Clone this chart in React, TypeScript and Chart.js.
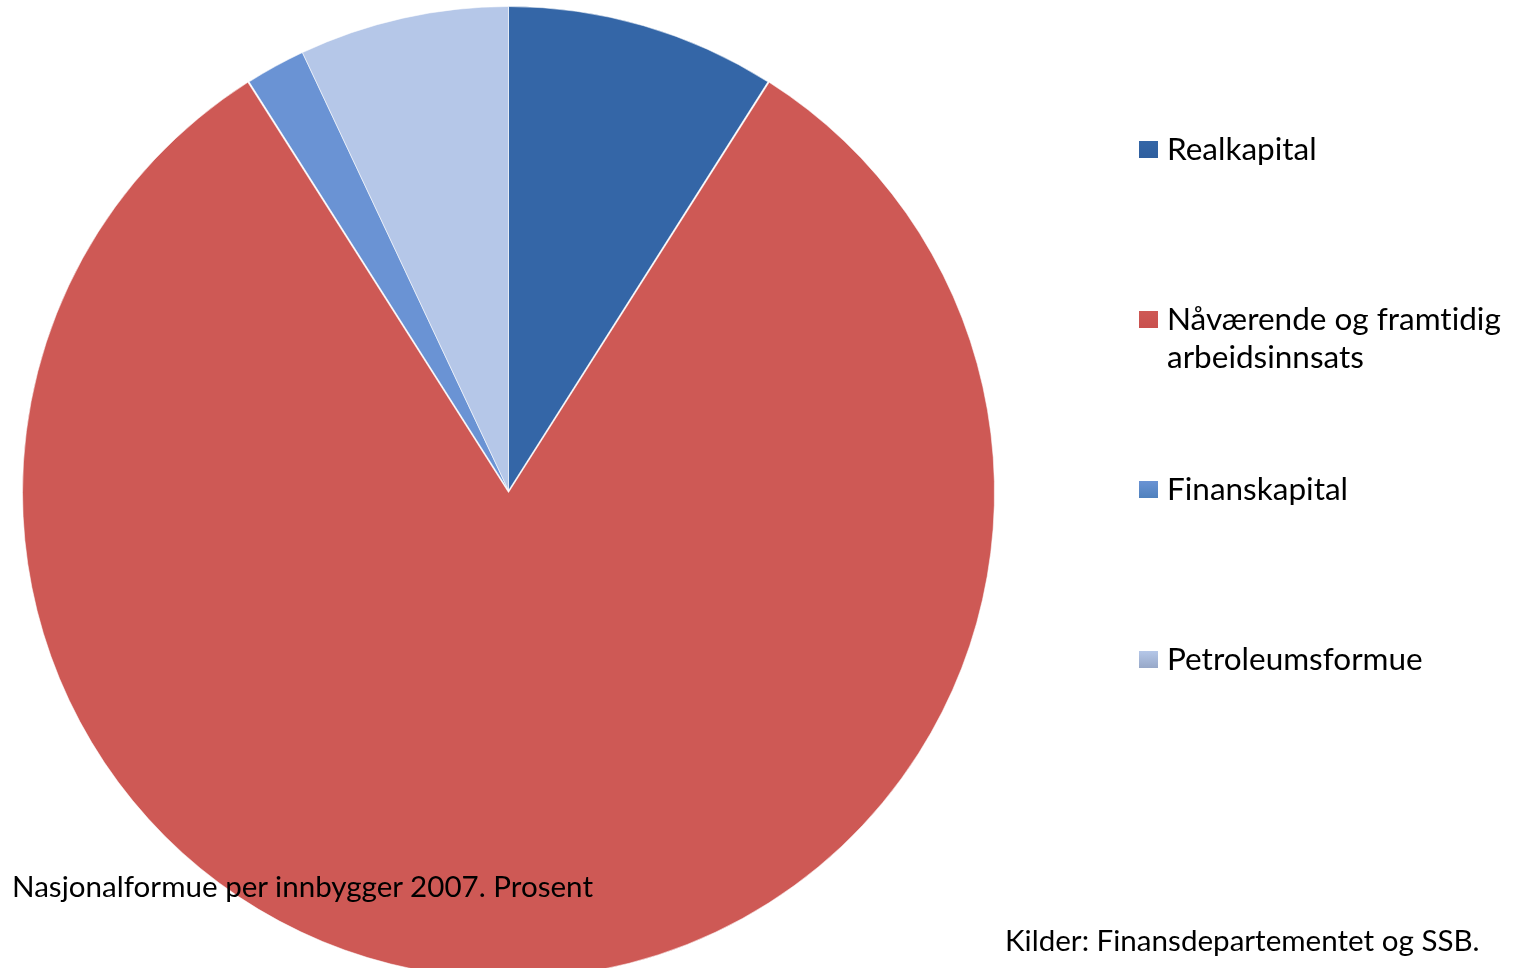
import React, { useEffect, useRef } from "react";
import { Chart, registerables } from "chart.js";

Chart.register(...registerables);

const categories = [
  "Realkapital",
  "Nåværende og framtidig arbeidsinnsats",
  "Finanskapital",
  "Petroleumsformue",
];
const legendLines = [
  ["Realkapital"],
  ["Nåværende og framtidig", "arbeidsinnsats"],
  ["Finanskapital"],
  ["Petroleumsformue"],
];
const shares = [9, 82, 2, 7];
const sliceColors = ["#3466a7", "#ce5955", "#6a93d4", "#b5c7e8"];
const markerColors = ["#2f5f9e", "#c9504e", "#4f81bd", "#97a8c8"];
const titleText = "Nasjonalformue per innbygger 2007. Prosent";
const sourceText = "Kilder: Finansdepartementet og SSB.";

const legendTops = [129, 299, 469, 639];

export default function App() {
  const canvasRef = useRef<HTMLCanvasElement | null>(null);

  useEffect(() => {
    if (!canvasRef.current) return;
    const chart = new Chart(canvasRef.current, {
      type: "pie",
      data: {
        labels: categories,
        datasets: [
          {
            data: shares,
            backgroundColor: sliceColors,
            borderColor: "rgba(255,255,255,0.55)",
            borderWidth: 1,
            offset: [0, 8, 0, 0],
          },
        ],
      },
      options: {
        animation: false,
        responsive: false,
        maintainAspectRatio: false,
        layout: { padding: { left: 20, top: 2, right: 1513 - 997, bottom: 1000 - 979 } },
        plugins: {
          legend: { display: false },
          tooltip: { enabled: false },
          title: { display: false },
        },
      },
    });
    return () => chart.destroy();
  }, []);

  const font = "Lato, 'Open Sans', sans-serif";

  return (
    <div
      style={{
        position: "fixed",
        left: 0,
        top: 0,
        width: 1513,
        height: 1000,
        background: "#ffffff",
        overflow: "hidden",
        fontVariantLigatures: "none",
      }}
    >
      <canvas
        ref={canvasRef}
        width={1513}
        height={1000}
        style={{ position: "absolute", left: 0, top: 0, width: 1513, height: 1000 }}
      />
      {legendLines.map((lines, i) => (
        <div
          key={i}
          style={{
            position: "absolute",
            left: 1139,
            top: legendTops[i],
            fontFamily: font,
            fontSize: 31.5,
            lineHeight: "38px",
            color: "#000",
          }}
        >
          <div
            style={{
              position: "absolute",
              left: 0,
              top: 12,
              width: 19,
              height: 17,
              background: `linear-gradient(180deg, ${sliceColors[i]} 0%, ${markerColors[i]} 100%)`,
            }}
          />
          <div style={{ marginLeft: 28, whiteSpace: "nowrap" }}>
            {lines.map((l, j) => (
              <div key={j}>{l}</div>
            ))}
          </div>
        </div>
      ))}
      <div
        style={{
          position: "absolute",
          left: 12,
          top: 869,
          fontFamily: font,
          fontSize: 29,
          lineHeight: "34px",
          whiteSpace: "nowrap",
          transformOrigin: "left center",
          transform: "scaleX(1.02)",
          color: "#000",
        }}
      >
        {titleText}
      </div>
      <div
        style={{
          position: "absolute",
          left: 1005,
          top: 923,
          fontFamily: font,
          fontSize: 29,
          lineHeight: "34px",
          whiteSpace: "nowrap",
          transformOrigin: "left center",
          transform: "scaleX(1.02)",
          color: "#000",
        }}
      >
        {sourceText}
      </div>
    </div>
  );
}
